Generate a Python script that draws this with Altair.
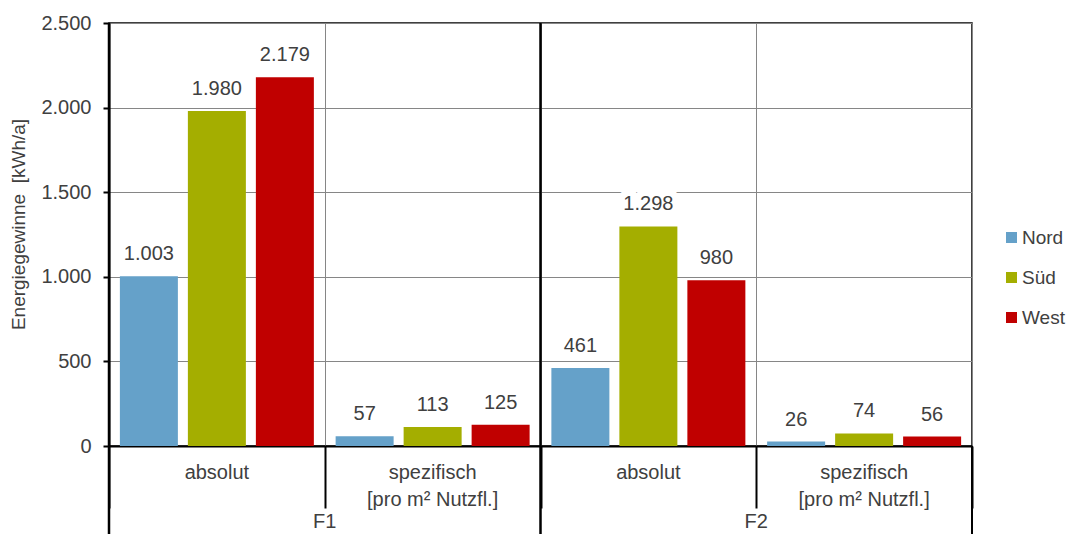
import altair as alt
import pandas as pd

groups = ["F1 absolut", "F1 spezifisch", "F2 absolut", "F2 spezifisch"]
group_labels = ["absolut", "spezifisch\n[pro m² Nutzfl.]", "absolut", "spezifisch\n[pro m² Nutzfl.]"]
fam = ["F1", "F1", "F2", "F2"]
directions = ["Nord", "Süd", "West"]
nord = [1003, 57, 461, 26]
sued = [1980, 113, 1298, 74]
west = [2179, 125, 980, 56]
colors = ["#65A1C9", "#A4AE00", "#C00000"]
f_levels = ["F1", "F2"]
f_center_grp = ["F1 spezifisch", "F2 spezifisch"]
f_start_grp = ["F1 absolut", "F2 absolut"]
f_end_grp = ["F2 spezifisch"]
y_ticks = [0, 500, 1000, 1500, 2000, 2500]

rows = []
for i, g in enumerate(groups):
    for d, vals in zip(directions, [nord, sued, west]):
        rows.append({"grp": g, "F": fam[i], "Richtung": d, "value": vals[i]})
df = pd.DataFrame(rows)
df_glab = pd.DataFrame({"grp": groups, "lab": group_labels})
df_flab = pd.DataFrame({"grp": f_center_grp, "F": f_levels})
df_fstart = pd.DataFrame({"grp": f_start_grp})
df_fend = pd.DataFrame({"grp": f_end_grp})

TXT = "#404040"
GRID = "#868686"
H = 423
W = 863

x_scale = alt.Scale(domain=groups, paddingInner=0, paddingOuter=0)
x_axis = alt.Axis(
    orient="bottom",
    title=None,
    labels=False,
    domain=True, domainColor="black", domainWidth=2,
    ticks=True, tickBand="extent", tickSize=62, tickColor="black", tickWidth=2,
    grid=True, gridColor=GRID, gridWidth=1,
)


def xenc(band=None):
    if band is None:
        return alt.X("grp:N", sort=groups, scale=x_scale, axis=x_axis)
    return alt.X("grp:N", sort=groups, scale=x_scale, axis=x_axis, bandPosition=band)


y_val = alt.Y(
    "value:Q",
    scale=alt.Scale(domain=[0, 2500], nice=False),
    axis=alt.Axis(
        values=y_ticks,
        labelExpr="replace(format(datum.value, ','), ',', '.')",
        labelFontSize=20, labelColor=TXT, labelPadding=12,
        domain=True, domainColor="black", domainWidth=2,
        ticks=True, tickColor="black", tickSize=6, tickWidth=2,
        grid=True, gridColor=GRID, gridWidth=1,
        title="Energiegewinne\u00a0 [kWh/a]",
        titleFontSize=19, titleFontWeight="normal", titleColor=TXT,
        titleX=-91, titleY=201, titleBaseline="middle", titleAngle=270,
    ),
)
xoff = alt.XOffset(
    "Richtung:N", sort=directions,
    scale=alt.Scale(paddingInner=0.147, paddingOuter=0.16),
)
color = alt.Color(
    "Richtung:N", sort=directions,
    scale=alt.Scale(domain=directions, range=colors),
    legend=alt.Legend(
        title=None, orient="none", legendX=893, legendY=205,
        symbolType="square", symbolSize=121, symbolStrokeWidth=0,
        labelFontSize=19, labelColor=TXT, rowPadding=20, labelOffset=1,
        padding=0,
    ),
)

base = alt.Chart(df).encode(x=xenc(), xOffset=xoff, y=y_val)

bars = base.mark_bar().encode(color=color)

labels = base.transform_calculate(
    lab="replace(format(datum.value, ','), ',', '.')"
)
halo = labels.mark_text(
    baseline="alphabetic", dy=-16, fontSize=20, color="white",
    stroke="white", strokeWidth=14, strokeJoin="round",
).encode(text="lab:N")
text = labels.mark_text(
    baseline="alphabetic", dy=-16, fontSize=20, color=TXT,
).encode(text="lab:N")

# category labels under the axis
g_text = alt.Chart(df_glab).mark_text(
    fontSize=20, color=TXT, baseline="alphabetic", align="center",
    lineBreak="\n", lineHeight=27,
).encode(
    x=xenc(),
    y=alt.value(H + 33),
    text="lab:N",
)

# F-level separators (start of each F block, and end of last block)
f_sep_start = alt.Chart(df_fstart).mark_rule(color="black", strokeWidth=2.5).encode(
    x=xenc(0),
    y=alt.value(0),
    y2=alt.value(H + 120),
)
f_sep_end = alt.Chart(df_fend).mark_rule(color="black", strokeWidth=2).encode(
    x=xenc(1),
    y=alt.value(H),
    y2=alt.value(H + 120),
)
f_text = alt.Chart(df_flab).mark_text(
    fontSize=20, color=TXT, baseline="alphabetic", align="center"
).encode(
    x=xenc(0),
    y=alt.value(H + 82),
    text="F:N",
)

chart = (
    alt.layer(bars, halo, text, g_text, f_sep_start, f_sep_end, f_text)
    .properties(
        width=W,
        height=H,
        padding={"left": 101, "top": 15, "right": 98, "bottom": 88},
        autosize=alt.AutoSizeParams(type="none"),
    )
    .configure(font="Liberation Sans")
    .configure_view(stroke="black", strokeWidth=1.5)
)

chart.save("out.html", embed_options={"renderer": "svg", "actions": False})
